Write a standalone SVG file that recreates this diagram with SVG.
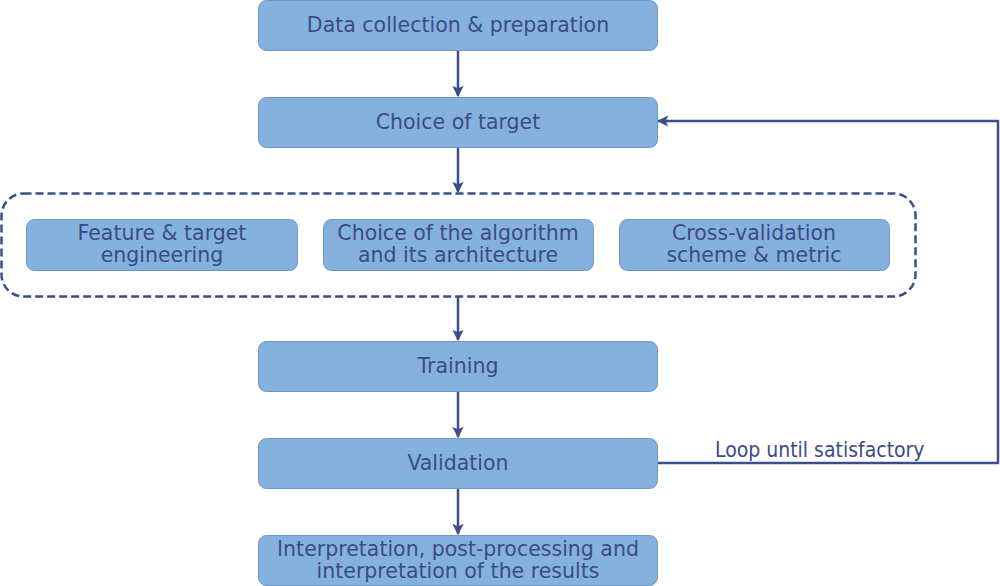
<svg xmlns="http://www.w3.org/2000/svg" width="1000" height="586" viewBox="0 0 1000 586">
<defs>
<marker id="ah" viewBox="0 0 10 10" refX="9" refY="5" markerWidth="4.5" markerHeight="4.5" orient="auto" markerUnits="strokeWidth">
<path d="M0,0 L10,5 L0,10 L2,5 Z" fill="#3c4e8a"/>
</marker>
<style>
.box{fill:#85b1df;stroke:#7096c6;stroke-width:1}
.t{font-family:"DejaVu Sans",sans-serif;font-size:20.5px;fill:#3b4c85;text-anchor:middle}
.c{fill:none;stroke:#3c4e8a;stroke-width:2.5}
.lbl{font-family:"DejaVu Sans Condensed","DejaVu Sans",sans-serif;font-size:21px;fill:#3b4c85}
</style>
</defs>
<rect width="1000" height="586" fill="#ffffff"/>
<g id="connectors">
<line class="c" x1="458" y1="50" x2="458" y2="96" marker-end="url(#ah)"/>
<line class="c" x1="458" y1="147" x2="458" y2="192" marker-end="url(#ah)"/>
<line class="c" x1="458" y1="296" x2="458" y2="340" marker-end="url(#ah)"/>
<line class="c" x1="458" y1="391" x2="458" y2="437" marker-end="url(#ah)"/>
<line class="c" x1="458" y1="488" x2="458" y2="534" marker-end="url(#ah)"/>
<polyline class="c" points="657,463 998,463 998,121 658,121" marker-end="url(#ah)"/>
<text class="lbl" x="715" y="457">Loop until satisfactory</text>
</g>
<g id="group-box">
<rect x="1.5" y="193.5" width="914" height="103" rx="22" fill="none" stroke="#3c4e8a" stroke-width="2.5" stroke-dasharray="8,4"/>
</g>
<g id="n1"><rect class="box" x="258.5" y="0.5" width="399" height="50" rx="8"/><text class="t" x="458" y="32">Data collection &amp; preparation</text></g>
<g id="n2"><rect class="box" x="258.5" y="97.5" width="399" height="50" rx="8"/><text class="t" x="458" y="129">Choice of target</text></g>
<g id="n3"><rect class="box" x="26.5" y="219.5" width="271" height="51" rx="8"/><text class="t" x="162" y="240">Feature &amp; target</text><text class="t" x="162" y="262">engineering</text></g>
<g id="n4"><rect class="box" x="323.5" y="219.5" width="270" height="51" rx="8"/><text class="t" x="458" y="240">Choice of the algorithm</text><text class="t" x="458" y="262">and its architecture</text></g>
<g id="n5"><rect class="box" x="619.5" y="219.5" width="270" height="51" rx="8"/><text class="t" x="754" y="240">Cross-validation</text><text class="t" x="754" y="262">scheme &amp; metric</text></g>
<g id="n6"><rect class="box" x="258.5" y="341.5" width="399" height="50" rx="8"/><text class="t" x="458" y="373">Training</text></g>
<g id="n7"><rect class="box" x="258.5" y="438.5" width="399" height="50" rx="8"/><text class="t" x="458" y="470">Validation</text></g>
<g id="n8"><rect class="box" x="258.5" y="535.5" width="399" height="50" rx="8"/><text class="t" x="458" y="556">Interpretation, post-processing and</text><text class="t" x="458" y="578">interpretation of the results</text></g>
</svg>
